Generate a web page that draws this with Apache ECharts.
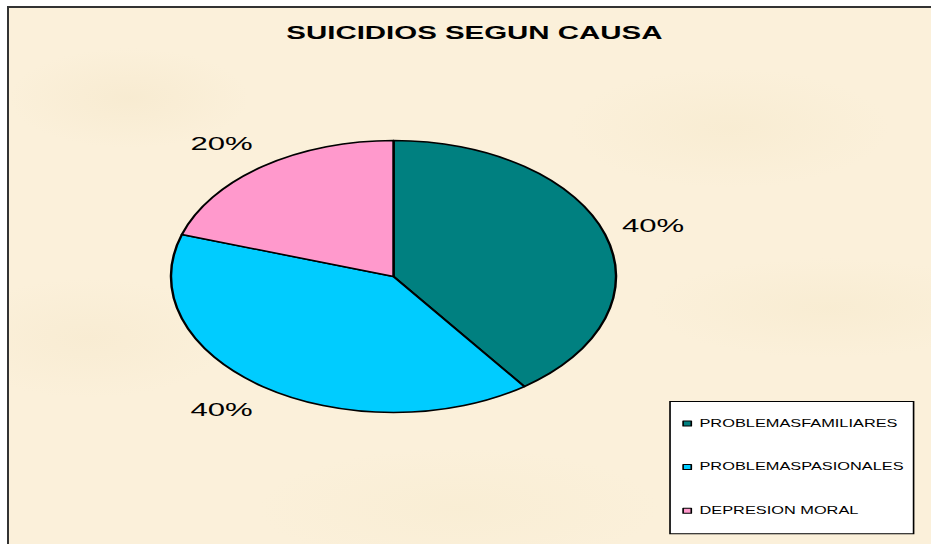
<!DOCTYPE html>
<html>
<head>
<meta charset="utf-8">
<script src="https://cdn.jsdelivr.net/npm/echarts@6/dist/echarts.min.js"></script>
<style>
  html, body { margin: 0; padding: 0; background: #fff; overflow: hidden; }
  body { width: 931px; height: 544px; position: relative; }
  /* marco con fondo tipo pergamino */
  #frame {
    position: absolute; left: 7px; top: 6px; width: 940px; height: 560px;
    border-left: 2px solid #333; border-top: 2px solid #333;
    background-color: #fbf0da;
    background-image:
      radial-gradient(ellipse 120px 50px at 120px 90px, rgba(240,224,190,0.3), rgba(240,224,190,0)),
      radial-gradient(ellipse 160px 60px at 720px 120px, rgba(242,228,194,0.3), rgba(242,228,194,0)),
      radial-gradient(ellipse 140px 60px at 80px 330px, rgba(240,224,190,0.25), rgba(240,224,190,0)),
      radial-gradient(ellipse 180px 50px at 820px 300px, rgba(242,228,194,0.3), rgba(242,228,194,0)),
      radial-gradient(ellipse 200px 60px at 450px 500px, rgba(244,232,200,0.3), rgba(244,232,200,0));
  }
  /* el grafico original esta estirado en horizontal */
  #chart {
    position: absolute; left: 0; top: 0; width: 569px; height: 544px;
    transform: scaleX(1.6362); transform-origin: 0 0;
  }
</style>
</head>
<body>
<div id="frame"></div>
<div id="chart"></div>
<script>
// datos del grafico
const categories = ['PROBLEMASFAMILIARES', 'PROBLEMASPASIONALES', 'DEPRESION MORAL'];
const values = [40, 40, 20];
const colors = ['#008080', '#00CCFF', '#FF99CC'];

const pieCenter = [240.5, 276.5];

const chart = echarts.init(document.getElementById('chart'), null, { renderer: 'svg' });

const option = {
    animation: false,
    color: colors,
    title: {
        text: 'SUICIDIOS SEGUN CAUSA',
        left: 175,
        top: 24,
        padding: 0,
        textStyle: { fontFamily: 'Liberation Sans', fontSize: 18, fontWeight: 'bold', color: '#000' }
    },
    legend: {
        orient: 'vertical',
        left: 409.5,
        top: 401.5,
        padding: [16, 6, 17, 7.5],
        itemGap: 31.6,
        itemWidth: 5,
        itemHeight: 5,
        icon: 'rect',
        backgroundColor: '#fff',
        borderColor: '#000',
        borderWidth: 1,
        borderRadius: 0,
        itemStyle: { borderColor: '#000', borderWidth: 1 },
        textStyle: { fontFamily: 'Liberation Sans', fontSize: 10, lineHeight: 12, color: '#000' },
        data: categories
    },
    series: [{
        type: 'pie',
        center: pieCenter,
        radius: 136,
        startAngle: 90,
        clockwise: true,
        silent: true,
        itemStyle: { borderColor: '#000', borderWidth: 1.5 },
        label: {
            position: 'outside',
            formatter: '{d}%',
            fontFamily: 'Liberation Sans',
            fontSize: 19,
            color: '#000',
            distanceToLabelLine: 0
        },
        labelLine: { show: false, length: 16, length2: 0 },
        // etiquetas un poco mas separadas en vertical, como en Excel
        labelLayout: function (params) {
            const r = params.labelRect;
            const mx = r.x + r.width / 2 - pieCenter[0];
            const my = r.y + r.height / 2 - pieCenter[1];
            return { dx: -0.03 * mx, dy: 0.08 * my };
        },
        data: categories.map((name, i) => ({ name: name, value: values[i] }))
    }]
};

chart.setOption(option);
</script>
</body>
</html>
